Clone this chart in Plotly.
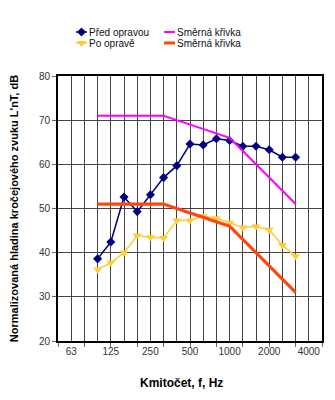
import plotly.graph_objects as go

# third-octave band categories (Hz)
freqs = ["50", "63", "80", "100", "125", "160", "200", "250", "315", "400", "500",
         "630", "800", "1000", "1250", "1600", "2000", "2500", "3150", "4000", "5000"]
labeled = ["63", "125", "250", "500", "1000", "2000", "4000"]

meas_freqs = ["100", "125", "160", "200", "250", "315", "400", "500", "630", "800",
              "1000", "1250", "1600", "2000", "2500", "3150"]
pred_opravou = [38.6, 42.4, 52.6, 49.3, 53.1, 57.0, 59.7, 64.6, 64.4, 65.8,
                65.4, 64.1, 64.1, 63.3, 61.6, 61.6]
po_oprave = [36.2, 37.7, 40.0, 43.9, 43.5, 43.3, 47.3, 47.3, 48.3, 47.8,
             46.8, 45.7, 45.9, 45.2, 41.7, 39.2]
smerna_1 = [71, 71, 71, 71, 71, 71, 70, 69, 68, 67, 66, 63, 60, 57, 54, 51]
smerna_2 = [51, 51, 51, 51, 51, 51, 50, 49, 48, 47, 46, 43, 40, 37, 34, 31]

x_meas = [freqs.index(f) for f in meas_freqs]
FONT = "Liberation Sans, Arial, sans-serif"

fig = go.Figure()
fig.add_trace(go.Scatter(
    x=x_meas, y=pred_opravou, name="Před opravou", mode="lines+markers",
    line=dict(color="#000080", width=1.5),
    marker=dict(symbol="diamond", size=7, color="#000080"),
    legend="legend"))
fig.add_trace(go.Scatter(
    x=x_meas, y=po_oprave, name="Po opravě", mode="lines+markers",
    line=dict(color="#FFCC33", width=1.5),
    marker=dict(symbol="triangle-down", size=8, color="#FFCC33"),
    legend="legend2"))
fig.add_trace(go.Scatter(
    x=x_meas, y=smerna_1, name="Směrná křivka", mode="lines",
    line=dict(color="#FF00FF", width=2),
    legend="legend3"))
fig.add_trace(go.Scatter(
    x=x_meas, y=smerna_2, name="Směrná křivka", mode="lines",
    line=dict(color="#FF4512", width=3.2),
    legend="legend4"))

ticktext = [f if f in labeled else "" for f in freqs]


def leg(px, py):
    return dict(orientation="h", xref="container", yref="container",
                x=px / 335, y=1 - py / 400, xanchor="left", yanchor="middle",
                font=dict(size=10, color="#111"),
                bgcolor="rgba(0,0,0,0)", borderwidth=0)


fig.update_layout(
    width=335, height=400,
    margin=dict(l=58, r=13, t=76, b=59, autoexpand=False),
    paper_bgcolor="white", plot_bgcolor="white",
    font=dict(family=FONT, size=10, color="#222"),
    showlegend=True,
    legend=leg(49, 32),
    legend2=leg(49, 43),
    legend3=leg(137, 32),
    legend4=leg(137, 43),
    xaxis=dict(
        range=[0, 20], tickmode="array", tickvals=list(range(len(freqs))),
        ticktext=ticktext, ticks="", showgrid=True, gridcolor="#444",
        gridwidth=1, showline=True, mirror=True, linecolor="black",
        linewidth=2, zeroline=False, tickfont=dict(size=10, color="#333"),
        minor=dict(tickvals=list(range(0, 21, 2)), ticks="outside",
                   ticklen=4, tickcolor="#666", showgrid=False),
    ),
    yaxis=dict(
        range=[20, 80], dtick=10, showgrid=True, gridcolor="#444",
        gridwidth=1, showline=True, mirror=True, linecolor="black",
        linewidth=2, zeroline=False, ticks="outside", ticklen=4,
        tickcolor="#666", tickfont=dict(size=10, color="#333"),
        title=dict(text="<b>Normalizovaná hladina kročejového zvuku L'nT, dB</b>",
                   font=dict(size=11, color="black", family=FONT), standoff=18),
    ),
    annotations=[dict(
        text="<b>Kmitočet, f, Hz</b>", xref="paper", yref="paper",
        x=(181 - 58) / 264, y=-(383 - 341) / 265, xanchor="center",
        yanchor="middle", showarrow=False,
        font=dict(size=12, color="black", family=FONT))],
)

# shorten the legend sample lines so they sit just before the legend text
post = """
(function(){
  var gd = document.querySelector('.plotly-graph-div');
  function shortLegend(){
    if(!gd) return;
    gd.querySelectorAll('g.legendlines path').forEach(function(p){
      p.setAttribute('d','M27,0h11');
    });
    gd.querySelectorAll('g.legendpoints').forEach(function(g){
      g.setAttribute('transform','translate(12.5,0)');
    });
  }
  shortLegend();
  [0, 30, 100, 300, 600, 1000].forEach(function(t){ setTimeout(shortLegend, t); });
  if(gd && gd.on) gd.on('plotly_afterplot', shortLegend);
})();
"""

fig.write_html("out.html", post_script=post)
